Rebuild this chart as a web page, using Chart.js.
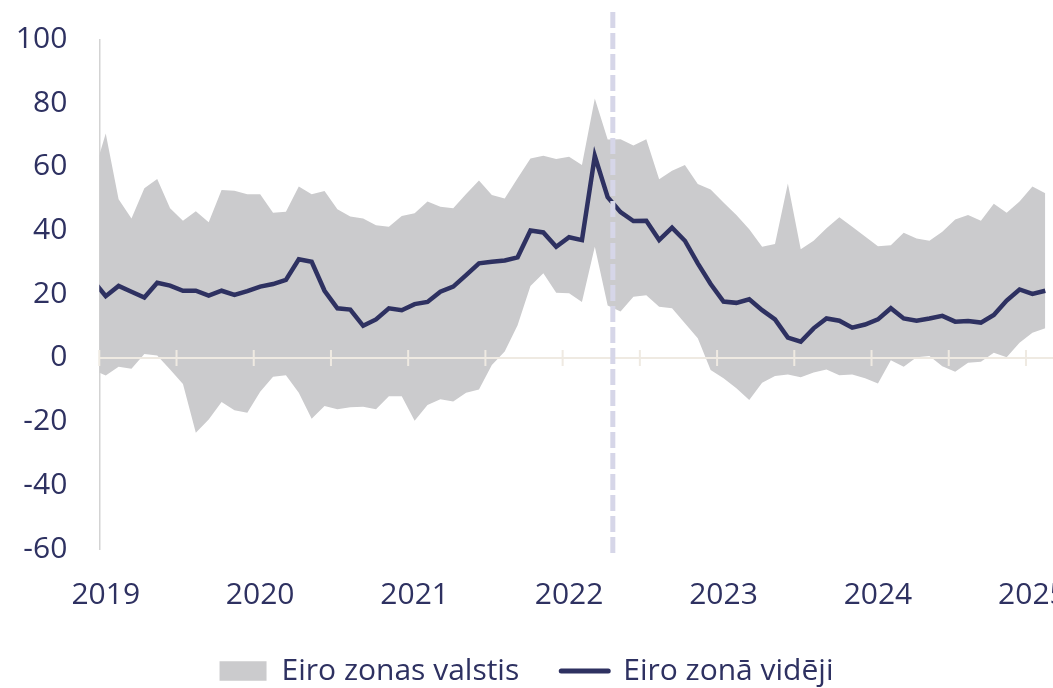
<!DOCTYPE html>
<html>
<head>
<meta charset="utf-8">
<script src="https://cdn.jsdelivr.net/npm/chart.js@4/dist/chart.umd.min.js"></script>
<style>
  html, body { margin: 0; padding: 0; background: #ffffff; overflow: hidden; }
  canvas { display: block; }
</style>
</head>
<body>
<canvas id="chart" width="1053" height="688"></canvas>
<script>
// months, Dec 2018 .. Feb 2025 (index 0 = Dec 2018, first one is clipped by the axis)
let months = [
    '2018-12',
    '2019-01', '2019-02', '2019-03', '2019-04', '2019-05', '2019-06', '2019-07', '2019-08', '2019-09', '2019-10', '2019-11', '2019-12',
    '2020-01', '2020-02', '2020-03', '2020-04', '2020-05', '2020-06', '2020-07', '2020-08', '2020-09', '2020-10', '2020-11', '2020-12',
    '2021-01', '2021-02', '2021-03', '2021-04', '2021-05', '2021-06', '2021-07', '2021-08', '2021-09', '2021-10', '2021-11', '2021-12',
    '2022-01', '2022-02', '2022-03', '2022-04', '2022-05', '2022-06', '2022-07', '2022-08', '2022-09', '2022-10', '2022-11', '2022-12',
    '2023-01', '2023-02', '2023-03', '2023-04', '2023-05', '2023-06', '2023-07', '2023-08', '2023-09', '2023-10', '2023-11', '2023-12',
    '2024-01', '2024-02', '2024-03', '2024-04', '2024-05', '2024-06', '2024-07', '2024-08', '2024-09', '2024-10', '2024-11', '2024-12',
    '2025-01', '2025-02'
];

// highest value among euro area countries
let bandMax = [
    56.9,
    70.5, 49.8, 43.8, 53.3, 56.2, 47.0, 43.1, 46.1, 42.6, 52.7, 52.5, 51.4,
    51.4, 45.6, 45.9, 53.8, 51.4, 52.4, 46.7, 44.4, 43.8, 41.7, 41.2, 44.6,
    45.4, 49.1, 47.5, 47.0, 51.5, 55.7, 51.2, 50.1, 56.4, 62.6, 63.5, 62.5,
    63.2, 60.6, 81.5, 68.6, 68.7, 66.7, 68.7, 56.1, 58.8, 60.6, 54.6, 52.9,
    48.8, 44.9, 40.4, 34.9, 35.8, 54.8, 34.1, 36.8, 40.7, 44.2, 41.2, 38.1,
    35.1, 35.4, 39.3, 37.5, 36.8, 39.6, 43.5, 44.9, 43.1, 48.4, 45.6, 49.1,
    53.8, 51.7
];

// lowest value among euro area countries
let bandMin = [
    -3.7,
    -5.5, -2.8, -3.4, 1.2, 0.8, -3.6, -8.2, -23.5, -19.3, -13.8, -16.4, -17.2,
    -10.6, -5.9, -5.4, -10.9, -19.1, -15.1, -16.1, -15.5, -15.3, -16.1, -12.0, -12.0,
    -19.7, -14.8, -13.0, -13.7, -10.9, -9.9, -2.2, 2.0, 10.3, 22.6, 26.6, 20.5,
    20.3, 17.6, 34.9, 16.5, 14.6, 19.2, 19.7, 16.1, 15.6, 10.9, 6.2, -3.8,
    -6.4, -9.5, -13.2, -7.8, -5.7, -5.2, -6.1, -4.6, -3.6, -5.4, -5.2, -6.4,
    -8.0, -0.7, -2.8, 0.2, 0.6, -2.6, -4.3, -1.5, -1.2, 1.6, 0.2, 4.8,
    7.9, 9.3
];

// euro area average
let euroAvg = [
    24.4,
    19.4, 22.6, 20.8, 19.0, 23.6, 22.7, 21.1, 21.1, 19.6, 21.1, 19.8, 21.0,
    22.4, 23.2, 24.5, 31.0, 30.2, 21.1, 15.6, 15.2, 10.1, 12.1, 15.6, 15.0,
    16.9, 17.6, 20.8, 22.4, 26.0, 29.7, 30.2, 30.6, 31.6, 40.0, 39.4, 34.9,
    37.9, 37.0, 63.4, 50.5, 45.8, 43.0, 43.1, 37.0, 40.9, 36.8, 29.7, 23.2,
    17.7, 17.3, 18.4, 15.0, 12.1, 6.4, 5.1, 9.3, 12.4, 11.7, 9.5, 10.5,
    12.1, 15.6, 12.4, 11.7, 12.4, 13.2, 11.4, 11.6, 11.1, 13.5, 18.0, 21.5,
    20.1, 21.1
];

let yearLabels = ['2019', '2020', '2021', '2022', '2023', '2024', '2025'];
let yearTicks = [1, 13, 25, 37, 49, 61, 73];   // mid-January of each year
let halfYearMarks = [0.5, 6.5, 12.5, 18.5, 24.5, 30.5, 36.5, 42.5, 48.5, 54.5, 60.5, 66.5, 72.5];
let markerPos = 40.4;                          // end of April 2022
let markerRange = [108.6, -61.6];

let navy = '#2e3161';
let bandGrey = '#cbcbcd';


function toPoints(values) {
    return values.map((v, i) => ({ x: i, y: v }));
}


const zeroLine = {
    id: 'zeroLine',
    beforeDatasetsDraw(chart) {
        let { ctx, chartArea, scales } = chart;
        let y0 = scales.y.getPixelForValue(0);

        ctx.save();
        ctx.strokeStyle = '#efeae2';
        ctx.lineWidth = 2;
        ctx.beginPath();
        ctx.moveTo(chartArea.left, y0);
        ctx.lineTo(chartArea.right, y0);
        halfYearMarks.forEach((m) => {
            let px = scales.x.getPixelForValue(m);
            ctx.moveTo(px, y0 - 8);
            ctx.lineTo(px, y0 + 8);
        });
        ctx.stroke();
        ctx.restore();
    }
};


Chart.defaults.font.family = "'Open Sans', sans-serif";
Chart.defaults.font.size = 30;
Chart.defaults.color = navy;

new Chart('chart', {
    type: 'line',
    data: {
        labels: months,
        datasets: [{
            label: 'Eiro zonas valstis',
            data: toPoints(bandMax),
            borderColor: 'transparent',
            borderWidth: 0,
            backgroundColor: bandGrey,
            pointRadius: 0,
            fill: '+1',
            order: 2
        }, {
            label: 'min',
            data: toPoints(bandMin),
            borderColor: 'transparent',
            borderWidth: 0,
            pointRadius: 0,
            fill: false,
            order: 3
        }, {
            label: 'Eiro zonā vidēji',
            data: toPoints(euroAvg),
            borderColor: navy,
            borderWidth: 4.5,
            pointRadius: 0,
            fill: false,
            order: 1
        }, {
            label: 'marker',
            data: markerRange.map((v) => ({ x: markerPos, y: v })),
            borderColor: '#d6d6e8',
            borderWidth: 5,
            borderDash: [16, 5],
            pointRadius: 0,
            fill: false,
            clip: false,
            order: 0
        }]
    },
    options: {
        responsive: false,
        animation: false,
        devicePixelRatio: 1,
        layout: { padding: { top: 39.5, left: 0, right: 0, bottom: 0 } },
        scales: {
            x: {
                type: 'linear',
                min: 0.5,
                max: 74.6,
                grid: { display: false, drawTicks: false },
                border: { display: false },
                ticks: {
                    padding: 28,
                    maxRotation: 0,
                    autoSkip: false,
                    callback: (value) => yearLabels[yearTicks.indexOf(value)]
                },
                afterBuildTicks: (scale) => {
                    scale.ticks = yearTicks.map((v) => ({ value: v }));
                },
                afterFit: (scale) => {
                    scale.height = 65;
                    scale.paddingLeft = 0;
                    scale.paddingRight = 0;
                }
            },
            y: {
                min: -60,
                max: 100,
                grid: { display: false, drawTicks: false },
                border: { display: true, color: '#d3d3d3', width: 1.5 },
                ticks: {
                    stepSize: 20,
                    padding: 32,
                    callback: (value) => String(value)
                },
                afterFit: (scale) => {
                    scale.width = 99.3;
                    scale.paddingTop = 0;
                    scale.paddingBottom = 0;
                }
            }
        },
        plugins: {
            filler: { drawTime: 'beforeDatasetsDraw' },
            tooltip: { enabled: false },
            legend: {
                position: 'bottom',
                maxHeight: 74,
                labels: {
                    usePointStyle: true,
                    pointStyleWidth: 47,
                    boxHeight: 19.5,
                    padding: 42,
                    color: navy,
                    generateLabels: () => [{
                        text: 'Eiro zonas valstis',
                        fillStyle: bandGrey,
                        strokeStyle: bandGrey,
                        lineWidth: 0,
                        pointStyle: 'rect',
                        fontColor: navy
                    }, {
                        text: 'Eiro zonā vidēji',
                        fillStyle: navy,
                        strokeStyle: navy,
                        lineWidth: 5,
                        lineCap: 'round',
                        pointStyle: 'line',
                        fontColor: navy
                    }]
                }
            }
        }
    },
    plugins: [zeroLine]
});
</script>
</body>
</html>
